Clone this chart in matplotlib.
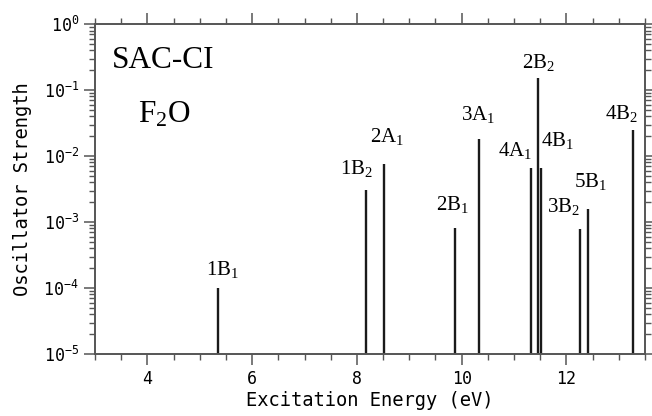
import matplotlib
matplotlib.use("Agg")
import matplotlib.pyplot as plt
from matplotlib.ticker import MultipleLocator, LogLocator, NullFormatter

# excitation energies (eV) and oscillator strengths
states = ["1B1", "1B2", "2A1", "2B1", "3A1", "4A1", "2B2", "4B1", "3B2", "5B1", "4B2"]
energy = [5.35, 8.17, 8.52, 9.87, 10.33, 11.32, 11.45, 11.52, 12.25, 12.41, 13.28]
strength = [1.0e-4, 3.1e-3, 7.6e-3, 8.0e-4, 1.8e-2, 6.7e-3, 0.153, 6.7e-3, 7.8e-4, 1.6e-3, 2.5e-2]

# label offsets from bar tip (pixels): dx of label centre, gap to baseline
label_dx = [4, -9, 3, -2, -1, -16, 1, 16, -16, 3, -12]
label_gap = [13, 16, 22, 18, 19, 12, 10, 22, 17, 22, 11]

plt.rcParams['font.family'] = ['DejaVu Sans Mono']
plt.rcParams['mathtext.fontset'] = 'custom'
plt.rcParams['mathtext.rm'] = 'Liberation Serif'
plt.rcParams['mathtext.it'] = 'Liberation Serif:italic'

fig = plt.figure(figsize=(6.52, 4.16), dpi=100)
ax = fig.add_axes([0.1457, 0.149, 0.8436, 0.793])

ax.vlines(energy, 1e-5, strength, color='#1a1a1a', linewidth=1.7)

for s, x, f, dx, gap in zip(states, energy, strength, label_dx, label_gap):
    txt = s[:-1] + r"$_\mathrm{" + s[-1] + "}$"
    ax.annotate(txt, (x, f), xytext=(dx, gap), textcoords='offset pixels',
                ha='center', va='baseline', fontsize=15, family='Liberation Serif')

ax.text(0.031, 0.867, "SAC-CI", transform=ax.transAxes, fontsize=22.5,
        family='Liberation Serif', va='baseline')
ax.text(0.078, 0.703, r"F$_\mathrm{2}$O", transform=ax.transAxes, fontsize=22.5,
        family='Liberation Serif', va='baseline')

ax.set_yscale('log')
ax.set_xlim(3, 13.5)
ax.set_ylim(1e-5, 1)
ax.xaxis.set_major_locator(MultipleLocator(2))
ax.xaxis.set_minor_locator(MultipleLocator(0.5))
ax.yaxis.set_major_locator(LogLocator(base=10, numticks=10))
ax.yaxis.set_minor_locator(LogLocator(base=10, subs=range(2, 10), numticks=10))
ax.yaxis.set_minor_formatter(NullFormatter())

ax.tick_params(which='both', direction='out', top=True, right=True,
               color='#555555', labelsize=12)
ax.tick_params(which='major', length=8, width=1.1)
ax.tick_params(which='minor', length=4, width=1.0)
for sp in ax.spines.values():
    sp.set_color('#555555')
    sp.set_linewidth(1.4)

ax.set_xlabel("Excitation Energy (eV)", fontsize=13.5, labelpad=2)
ax.set_ylabel("Oscillator Strength", fontsize=13.5, labelpad=8)

fig.savefig("out.png", dpi=100)
